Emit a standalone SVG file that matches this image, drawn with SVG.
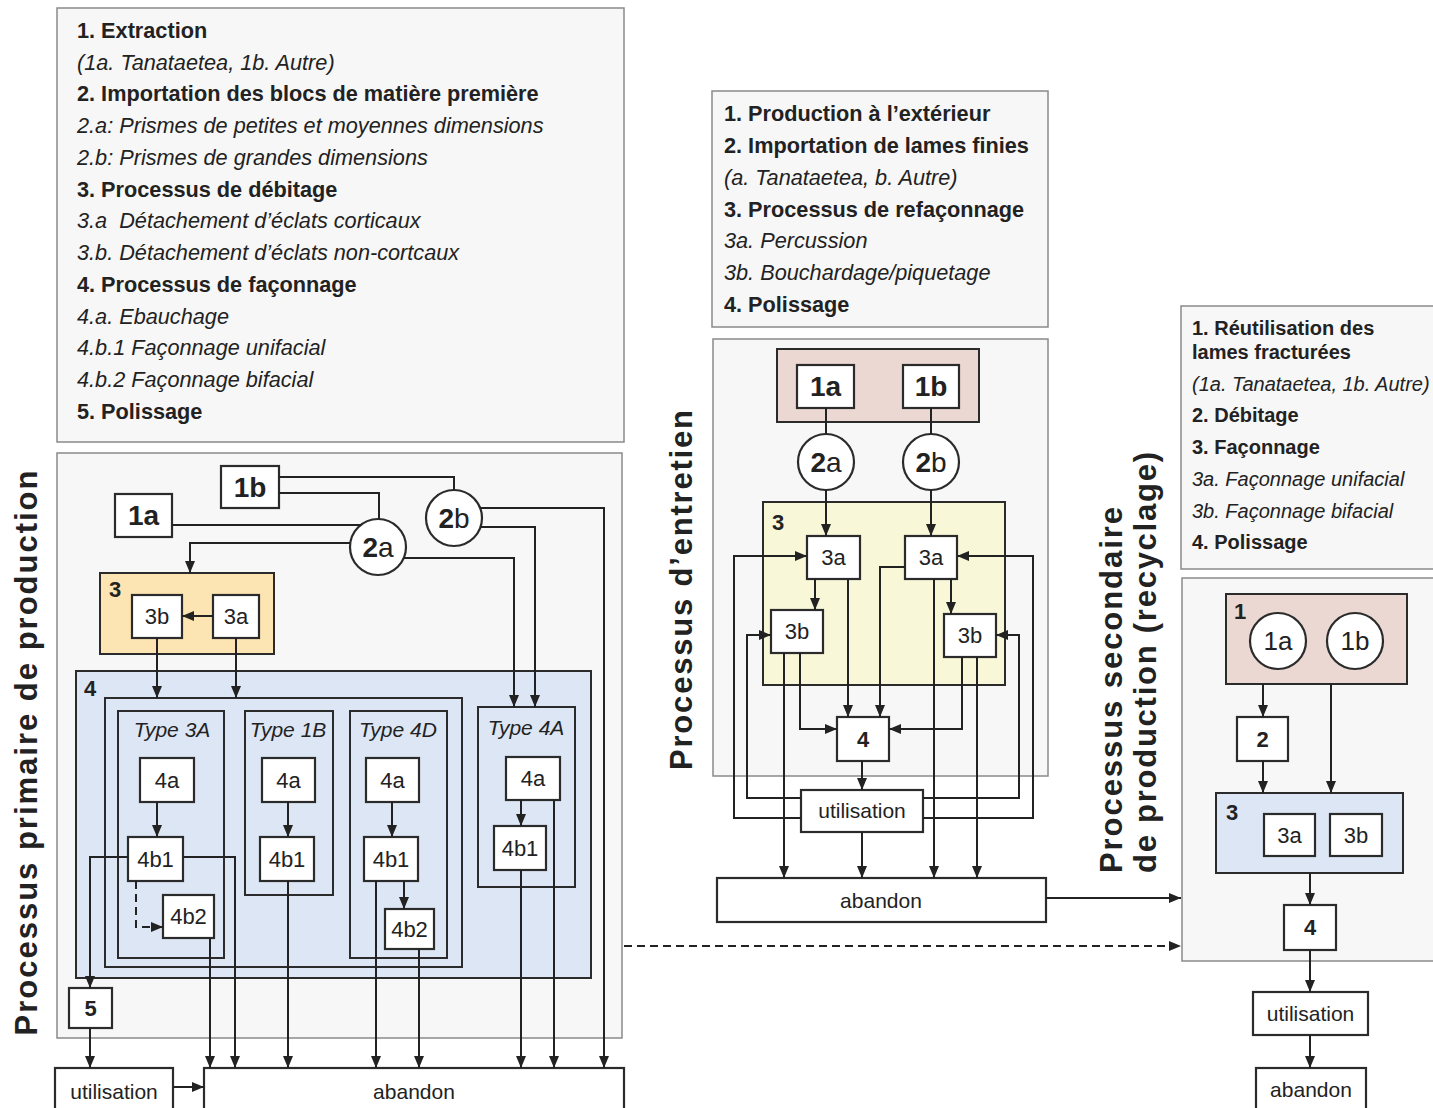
<svg xmlns="http://www.w3.org/2000/svg" width="1433" height="1108" viewBox="0 0 1433 1108">
<defs>
<marker id="ah" viewBox="0 0 12 10" refX="12" refY="5" markerWidth="12" markerHeight="10" orient="auto" markerUnits="userSpaceOnUse"><path d="M0,0 L12,5 L0,10 z" fill="#222"/></marker>
<style>
text{font-family:"Liberation Sans",Arial,sans-serif;fill:#222}
.panel{fill:#f7f7f7;stroke:#8a8a8a;stroke-width:1.5}
.nb{fill:#fff;stroke:#2b2b2b;stroke-width:2.2}
.grp{fill:none;stroke:#2b2b2b;stroke-width:2}
.c{fill:none;stroke:#222;stroke-width:2}
.a{marker-end:url(#ah)}
.d{stroke-dasharray:8 5}
.t22{font-size:22px;text-anchor:middle}
.b28{font-size:28px;font-weight:bold;text-anchor:middle}
.b22{font-size:22px;font-weight:bold}
.it21{font-size:21px;font-style:italic;text-anchor:middle}
.lg{font-size:21.7px}
.lr{font-size:20px}
.b{font-weight:bold}
.i{font-style:italic}
.vl{font-size:31px;font-weight:bold}
</style>
</defs>

<!-- Legend boxes -->
<g id="legend-primary">
<rect class="panel" x="57" y="8" width="567" height="434"/>
<text class="lg b" x="77" y="38">1. Extraction</text>
<text class="lg i" x="77" y="70">(1a. Tanataetea, 1b. Autre)</text>
<text class="lg b" x="77" y="101">2. Importation des blocs de matière première</text>
<text class="lg i" x="77" y="133">2.a: Prismes de petites et moyennes dimensions</text>
<text class="lg i" x="77" y="165">2.b: Prismes de grandes dimensions</text>
<text class="lg b" x="77" y="197">3. Processus de débitage</text>
<text class="lg i" x="77" y="228" xml:space="preserve">3.a  Détachement d’éclats corticaux</text>
<text class="lg i" x="77" y="260">3.b. Détachement d’éclats non-cortcaux</text>
<text class="lg b" x="77" y="292">4. Processus de façonnage</text>
<text class="lg i" x="77" y="324">4.a. Ebauchage</text>
<text class="lg i" x="77" y="355">4.b.1 Façonnage unifacial</text>
<text class="lg i" x="77" y="387">4.b.2 Façonnage bifacial</text>
<text class="lg b" x="77" y="419">5. Polissage</text>
</g>

<g id="legend-entretien">
<rect class="panel" x="712" y="91" width="336" height="236"/>
<text class="lg b" x="724" y="121">1. Production à l’extérieur</text>
<text class="lg b" x="724" y="153">2. Importation de lames finies</text>
<text class="lg i" x="724" y="185">(a. Tanataetea, b. Autre)</text>
<text class="lg b" x="724" y="217">3. Processus de refaçonnage</text>
<text class="lg i" x="724" y="248">3a. Percussion</text>
<text class="lg i" x="724" y="280">3b. Bouchardage/piquetage</text>
<text class="lg b" x="724" y="312">4. Polissage</text>
</g>

<g id="legend-secondaire">
<rect class="panel" x="1181" y="306" width="262" height="263"/>
<text class="lr b" x="1192" y="335">1. Réutilisation des</text>
<text class="lr b" x="1192" y="359">lames fracturées</text>
<text class="lr i" x="1192" y="391">(1a. Tanataetea, 1b. Autre)</text>
<text class="lr b" x="1192" y="422">2. Débitage</text>
<text class="lr b" x="1192" y="454">3. Façonnage</text>
<text class="lr i" x="1192" y="486">3a. Façonnage unifacial</text>
<text class="lr i" x="1192" y="518">3b. Façonnage bifacial</text>
<text class="lr b" x="1192" y="549">4. Polissage</text>
</g>

<!-- Vertical titles -->
<g id="titles">
<text class="vl" transform="translate(37,753) rotate(-90)" text-anchor="middle" textLength="565" lengthAdjust="spacing">Processus primaire de production</text>
<text class="vl" transform="translate(692,590) rotate(-90)" text-anchor="middle" textLength="360" lengthAdjust="spacing">Processus d’entretien</text>
<text class="vl" transform="translate(1122,873) rotate(-90)" textLength="366" lengthAdjust="spacing">Processus secondaire</text>
<text class="vl" transform="translate(1156,873) rotate(-90)" textLength="421" lengthAdjust="spacing">de production (recyclage)</text>
</g>

<!-- Panels -->
<g id="panels">
<rect class="panel" x="57" y="453" width="565" height="585"/>
<rect class="panel" x="713" y="339" width="335" height="437"/>
<rect class="panel" x="1182" y="578" width="262" height="383"/>
</g>

<!-- ===== Primary production ===== -->
<g id="p-group3">
<rect x="100" y="573" width="174" height="81" fill="#fde5b3" stroke="#2b2b2b" stroke-width="2"/>
<text class="b22" x="109" y="597">3</text>
</g>
<g id="p-group4">
<rect x="76" y="671" width="515" height="307" fill="#dce6f4" stroke="#2b2b2b" stroke-width="2"/>
<text class="b22" x="84" y="696">4</text>
<rect class="grp" x="105" y="698" width="357" height="269"/>
</g>
<g id="p-type3A"><rect class="grp" x="118" y="711" width="106" height="247"/><text class="it21" x="172" y="737">Type 3A</text></g>
<g id="p-type1B"><rect class="grp" x="245" y="711" width="88" height="184"/><text class="it21" x="288" y="737">Type 1B</text></g>
<g id="p-type4D"><rect class="grp" x="350" y="711" width="97" height="247"/><text class="it21" x="398" y="737">Type 4D</text></g>
<g id="p-type4A"><rect class="grp" x="478" y="707" width="97" height="180"/><text class="it21" x="526" y="735">Type 4A</text></g>

<g id="p-1b"><rect class="nb" x="221" y="466" width="58" height="42"/><text class="b28" x="250" y="497">1b</text></g>
<g id="p-1a"><rect class="nb" x="115" y="494" width="57" height="43"/><text class="b28" x="143.5" y="525">1a</text></g>
<g id="p-2a"><circle class="nb" cx="378" cy="547" r="28"/><text class="t22" style="font-size:28px" x="378" y="557"><tspan font-weight="bold">2</tspan>a</text></g>
<g id="p-2b"><circle class="nb" cx="454" cy="518" r="28"/><text class="t22" style="font-size:28px" x="454" y="528"><tspan font-weight="bold">2</tspan>b</text></g>
<g id="p-3b"><rect class="nb" x="132" y="595" width="50" height="43"/><text class="t22" x="157" y="624">3b</text></g>
<g id="p-3a"><rect class="nb" x="213" y="595" width="46" height="43"/><text class="t22" x="236" y="624">3a</text></g>

<g id="p-3A-4a"><rect class="nb" x="140" y="758" width="54" height="44"/><text class="t22" x="167" y="788">4a</text></g>
<g id="p-3A-4b1"><rect class="nb" x="128" y="837" width="55" height="44"/><text class="t22" x="155.5" y="867">4b1</text></g>
<g id="p-3A-4b2"><rect class="nb" x="163" y="895" width="51" height="43"/><text class="t22" x="188.5" y="924">4b2</text></g>
<g id="p-1B-4a"><rect class="nb" x="262" y="758" width="53" height="44"/><text class="t22" x="288.5" y="788">4a</text></g>
<g id="p-1B-4b1"><rect class="nb" x="260" y="837" width="54" height="44"/><text class="t22" x="287" y="867">4b1</text></g>
<g id="p-4D-4a"><rect class="nb" x="366" y="758" width="53" height="44"/><text class="t22" x="392.5" y="788">4a</text></g>
<g id="p-4D-4b1"><rect class="nb" x="364" y="837" width="54" height="44"/><text class="t22" x="391" y="867">4b1</text></g>
<g id="p-4D-4b2"><rect class="nb" x="385" y="909" width="49" height="40"/><text class="t22" x="409.5" y="937">4b2</text></g>
<g id="p-4A-4a"><rect class="nb" x="506" y="757" width="54" height="43"/><text class="t22" x="533" y="786">4a</text></g>
<g id="p-4A-4b1"><rect class="nb" x="494" y="826" width="52" height="44"/><text class="t22" x="520" y="856">4b1</text></g>

<g id="p-5"><rect class="nb" x="69" y="988" width="43" height="40"/><text class="b22" x="90.5" y="1016" text-anchor="middle">5</text></g>
<g id="p-utilisation"><rect class="nb" x="55" y="1068" width="118" height="50"/><text class="t22" style="font-size:21px" x="114" y="1099">utilisation</text></g>
<g id="p-abandon"><rect class="nb" x="204" y="1068" width="420" height="50"/><text class="t22" style="font-size:21px" x="414" y="1099">abandon</text></g>

<!-- ===== Entretien ===== -->
<g id="e-group1"><rect x="777" y="349" width="202" height="73" fill="#ebd8d2" stroke="#2b2b2b" stroke-width="2"/></g>
<g id="e-group3"><rect x="763" y="502" width="242" height="183" fill="#f8f7d7" stroke="#2b2b2b" stroke-width="2"/><text class="b22" x="772" y="530">3</text></g>
<g id="e-1a"><rect class="nb" x="797" y="365" width="57" height="43"/><text class="b28" x="825.5" y="396">1a</text></g>
<g id="e-1b"><rect class="nb" x="903" y="365" width="56" height="43"/><text class="b28" x="931" y="396">1b</text></g>
<g id="e-2a"><circle class="nb" cx="826" cy="462" r="28"/><text class="t22" style="font-size:28px" x="826" y="472"><tspan font-weight="bold">2</tspan>a</text></g>
<g id="e-2b"><circle class="nb" cx="931" cy="462" r="28"/><text class="t22" style="font-size:28px" x="931" y="472"><tspan font-weight="bold">2</tspan>b</text></g>
<g id="e-3a-l"><rect class="nb" x="807" y="536" width="53" height="43"/><text class="t22" x="833.5" y="565">3a</text></g>
<g id="e-3a-r"><rect class="nb" x="905" y="536" width="52" height="43"/><text class="t22" x="931" y="565">3a</text></g>
<g id="e-3b-l"><rect class="nb" x="771" y="610" width="52" height="43"/><text class="t22" x="797" y="639">3b</text></g>
<g id="e-3b-r"><rect class="nb" x="944" y="614" width="52" height="43"/><text class="t22" x="970" y="643">3b</text></g>
<g id="e-4"><rect class="nb" x="837" y="717" width="52" height="44"/><text class="b22" x="863" y="747" text-anchor="middle">4</text></g>
<g id="e-utilisation"><rect class="nb" x="801" y="790" width="122" height="42"/><text class="t22" style="font-size:21px" x="862" y="818">utilisation</text></g>
<g id="e-abandon"><rect class="nb" x="717" y="878" width="329" height="44"/><text class="t22" style="font-size:21px" x="881" y="908">abandon</text></g>

<!-- ===== Secondaire ===== -->
<g id="s-group1"><rect x="1226" y="594" width="181" height="90" fill="#ebd8d2" stroke="#2b2b2b" stroke-width="2"/><text class="b22" x="1234" y="619">1</text></g>
<g id="s-1a"><circle class="nb" cx="1278" cy="641" r="28"/><text class="t22" style="font-size:26px" x="1278" y="650">1a</text></g>
<g id="s-1b"><circle class="nb" cx="1355" cy="641" r="28"/><text class="t22" style="font-size:26px" x="1355" y="650">1b</text></g>
<g id="s-2"><rect class="nb" x="1237" y="717" width="51" height="44"/><text class="b22" x="1262.5" y="747" text-anchor="middle">2</text></g>
<g id="s-group3"><rect x="1216" y="793" width="187" height="80" fill="#dce6f4" stroke="#2b2b2b" stroke-width="2"/><text class="b22" x="1226" y="820">3</text></g>
<g id="s-3a"><rect class="nb" x="1264" y="814" width="51" height="42"/><text class="t22" x="1289.5" y="843">3a</text></g>
<g id="s-3b"><rect class="nb" x="1330" y="814" width="52" height="42"/><text class="t22" x="1356" y="843">3b</text></g>
<g id="s-4"><rect class="nb" x="1284" y="905" width="52" height="45"/><text class="b22" x="1310" y="935" text-anchor="middle">4</text></g>
<g id="s-utilisation"><rect class="nb" x="1253" y="992" width="115" height="43"/><text class="t22" style="font-size:21px" x="1310.5" y="1021">utilisation</text></g>
<g id="s-abandon"><rect class="nb" x="1256" y="1068" width="110" height="50"/><text class="t22" style="font-size:21px" x="1311" y="1097">abandon</text></g>

<!-- ===== Connectors ===== -->
<g id="connectors">
<!-- primary -->
<path class="c" d="M279,477 H454 V490"/>
<path class="c" d="M279,493 H379 V519"/>
<path class="c" d="M172,525 H361"/>
<path class="c a" d="M350,543 H190 V573"/>
<path class="c a" d="M404,558 H514 V707"/>
<path class="c a" d="M480,508 H604 V1068"/>
<path class="c a" d="M480,527 H535 V707"/>
<path class="c a" d="M213,616 H182"/>
<path class="c a" d="M157,638 V698"/>
<path class="c a" d="M236,638 V698"/>
<path class="c a" d="M157,802 V837"/>
<path class="c a" d="M128,857 H90 V988"/>
<path class="c a" d="M183,857 H235 V1068"/>
<path class="c d a" d="M136,881 V927 H163"/>
<path class="c a" d="M210,938 V1068"/>
<path class="c a" d="M288,802 V837"/>
<path class="c a" d="M288,881 V1068"/>
<path class="c a" d="M392,802 V837"/>
<path class="c a" d="M404,881 V909"/>
<path class="c a" d="M376,881 V1068"/>
<path class="c a" d="M419,949 V1068"/>
<path class="c a" d="M521,800 V826"/>
<path class="c a" d="M521,870 V1068"/>
<path class="c a" d="M554,800 V1068"/>
<path class="c a" d="M90,1028 V1068"/>
<path class="c a" d="M173,1087 H204"/>
<path class="c d a" d="M624,946 H1181"/>
<!-- entretien -->
<path class="c" d="M826,408 V434"/>
<path class="c" d="M931,408 V434"/>
<path class="c a" d="M826,490 V536"/>
<path class="c a" d="M931,490 V536"/>
<path class="c a" d="M815,579 V610"/>
<path class="c a" d="M951,579 V614"/>
<path class="c a" d="M848,579 V717"/>
<path class="c a" d="M905,567 H880 V717"/>
<path class="c a" d="M934,579 V878"/>
<path class="c a" d="M784,653 V878"/>
<path class="c a" d="M800,653 V729 H837"/>
<path class="c a" d="M962,657 V729 H889"/>
<path class="c a" d="M977,657 V878"/>
<path class="c a" d="M862,761 V790"/>
<path class="c a" d="M862,832 V878"/>
<path class="c a" d="M801,798 H747 V635 H771"/>
<path class="c a" d="M923,798 H1019 V635 H996"/>
<path class="c a" d="M801,818 H734 V556 H807"/>
<path class="c a" d="M923,818 H1033 V556 H957"/>
<path class="c a" d="M1046,898 H1181"/>
<!-- secondaire -->
<path class="c a" d="M1263,684 V717"/>
<path class="c a" d="M1263,761 V793"/>
<path class="c a" d="M1331,684 V793"/>
<path class="c a" d="M1310,873 V905"/>
<path class="c a" d="M1310,950 V992"/>
<path class="c a" d="M1310,1035 V1068"/>
</g>
</svg>
